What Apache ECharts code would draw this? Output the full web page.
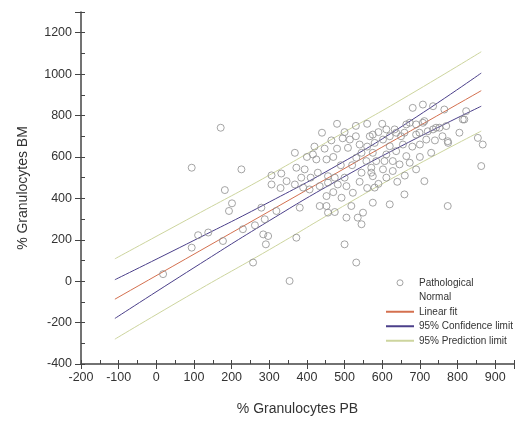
<!DOCTYPE html>
<html>
<head>
<meta charset="utf-8">
<script src="https://cdn.jsdelivr.net/npm/echarts@6/dist/echarts.min.js"></script>
<style>
  html, body { margin: 0; padding: 0; background: #fff; }
  #chart { width: 520px; height: 421px; }
</style>
</head>
<body>
<div id="chart"></div>
<script>
// scatter points [PB, BM]
const pathological = [
  [18,34],[94,162],[94,548],[111,222],[138,235],[177,194],[182,440],[171,741],[193,339],[201,376],
  [226,540],[230,251],[257,90],[262,270],[279,355],[284,226],[288,299],[291,178],[297,218],[306,511],
  [306,467],[319,339],[332,520],[346,483],[354,1],[368,620],[372,548],[368,467],[372,210],
  [440,717],[447,640],[416,612],[394,540],[452,588],[429,524],[456,507],[474,500],[514,684],[509,644],
  [540,660],[567,700],[531,596],[558,580],[571,524],[545,524],[390,452],[407,443],[434,459],[456,476],
  [482,467],[505,459],[522,427],[492,403],[452,411],[434,363],[452,363],[456,331],[474,334],[505,307],
  [518,363],[535,307],[549,331],[545,275],[381,355],[500,178],[531,90],[425,588],
  [681,837],[708,853],[735,845],[765,829],[633,733],[673,765],[708,765],[743,741],[770,749],[575,708],
  [602,684],[659,717],[690,708],[580,668],[620,652],[655,660],[575,620],[611,612],[637,628],[664,604],
  [584,580],[606,580],[628,580],[646,564],[673,572],[571,548],[602,540],[628,532],[575,507],[611,500],
  [774,676],[712,483],[580,452],[659,419],[620,371],[774,363],
  [823,821],[818,781],[805,717],[775,668],[854,692],[867,660],[863,556],[712,773],[814,781],[735,733],
  [699,717],[717,684],[611,733],[637,717],[664,757],[690,757],[721,724],[752,741],[575,379],
  [545,620],[560,650],[530,700],[520,560],[490,560],[470,600],[480,640],[495,690],[465,680],[420,650],
  [400,600],[410,500],[385,500],[330,450],[470,430],[500,500],[540,480],[560,450],[590,470],[640,480],
  [660,510],[690,540],[700,600],[730,620],[740,680],[760,700],[680,650],[700,660],[650,700],[620,700],
  [590,720],[600,760],[560,760],[530,750],[500,720],[480,760]
];
const normal = [];

// fitted lines, points
const linearFit = [[-110,-87],[863,920]];
const confUpper = [[-110,7],[100,197],[300,382],[480,559],[650,745],[863,1005]];
const confLower = [[-110,-180],[100,65],[300,292],[480,485],[650,652],[863,845]];
const predUpper = [[-110,108],[100,315],[300,512],[480,700],[650,876],[863,1108]];
const predLower = [[-110,-280],[100,-55],[300,152],[480,345],[650,520],[863,725]];

const xTicks = [-200, 950];
const yTicks = [-400, 1300];

const labelFont = 'Liberation Sans, Arial, sans-serif';

const chart = echarts.init(document.getElementById('chart'));

const lineSeries = (name, data, color) => ({
  name: name,
  type: 'line',
  data: data,
  smooth: true,
  symbol: 'none',
  silent: true,
  lineStyle: { color: color, width: 1 },
  itemStyle: { color: color },
  z: 3
});

// legend entries for the lines: hide the marker, keep the stroke
const lineLegend = name => ({ name: name, itemStyle: { opacity: 0 } });

chart.setOption({
  backgroundColor: '#ffffff',
  animation: false,
  grid: { left: 81, right: 6, top: 12, bottom: 56 },
  legend: {
    orient: 'vertical',
    left: 380,
    top: 272,
    itemWidth: 28,
    itemHeight: 6,
    itemGap: 3,
    textStyle: { fontSize: 10, color: '#333', fontFamily: labelFont, lineHeight: 11.5 },
    data: [
      { name: 'Pathological', icon: 'circle', itemStyle: { color: '#fff', borderColor: '#8f8f8f', borderWidth: 1 } },
      { name: 'Normal', itemStyle: { opacity: 0 } },
      lineLegend('Linear fit'),
      lineLegend('95% Confidence limit'),
      lineLegend('95% Prediction limit')
    ]
  },
  xAxis: [{
    type: 'value',
    min: xTicks[0], max: xTicks[1], interval: 100,
    name: '% Granulocytes PB',
    nameLocation: 'middle',
    nameGap: 38,
    nameTextStyle: { fontSize: 14, color: '#333', fontFamily: labelFont },
    splitLine: { show: false },
    axisLine: { onZero: false, lineStyle: { color: '#444', width: 1.5 } },
    axisTick: { length: 5, lineStyle: { color: '#444' } },
    axisLabel: {
      fontSize: 12.5, color: '#333', fontFamily: labelFont, margin: 7,
      formatter: v => v > 900 ? '' : String(v)
    }
  }, {
    type: 'value',
    min: xTicks[0], max: xTicks[1], interval: 50,
    position: 'bottom',
    splitLine: { show: false },
    axisLine: { show: false, onZero: false },
    axisTick: { inside: true, length: 4, lineStyle: { color: '#444' } },
    axisLabel: { show: false }
  }],
  yAxis: [{
    type: 'value',
    min: yTicks[0], max: yTicks[1], interval: 200,
    name: '% Granulocytes BM',
    nameLocation: 'middle',
    nameGap: 51,
    nameTextStyle: { fontSize: 14, color: '#333', fontFamily: labelFont },
    splitLine: { show: false },
    axisLine: { show: true, onZero: false, lineStyle: { color: '#444', width: 1.5 } },
    axisTick: { show: true, length: 6, lineStyle: { color: '#444' } },
    axisLabel: {
      fontSize: 12.5, color: '#333', fontFamily: labelFont, margin: 9,
      formatter: v => v > 1200 ? '' : String(v)
    }
  }, {
    type: 'value',
    min: yTicks[0], max: yTicks[1], interval: 100,
    position: 'left',
    splitLine: { show: false },
    axisLine: { show: false, onZero: false },
    axisTick: { show: true, inside: true, length: 4, lineStyle: { color: '#444' } },
    axisLabel: { show: false }
  }],
  series: [
    {
      name: 'Pathological',
      type: 'scatter',
      data: pathological,
      symbol: 'circle',
      symbolSize: 7,
      itemStyle: { color: 'rgba(255,255,255,0)', borderColor: '#8f8f8f', borderWidth: 1 },
      z: 4
    },
    {
      name: 'Normal',
      type: 'scatter',
      data: normal,
      symbolSize: 7,
      itemStyle: { color: '#f6f6f6' }
    },
    lineSeries('Linear fit', linearFit, '#d4704f'),
    lineSeries('95% Confidence limit', confUpper, '#4b3f8a'),
    lineSeries('95% Confidence limit', confLower, '#4b3f8a'),
    lineSeries('95% Prediction limit', predUpper, '#cdd59e'),
    lineSeries('95% Prediction limit', predLower, '#cdd59e')
  ]
});
</script>
</body>
</html>
